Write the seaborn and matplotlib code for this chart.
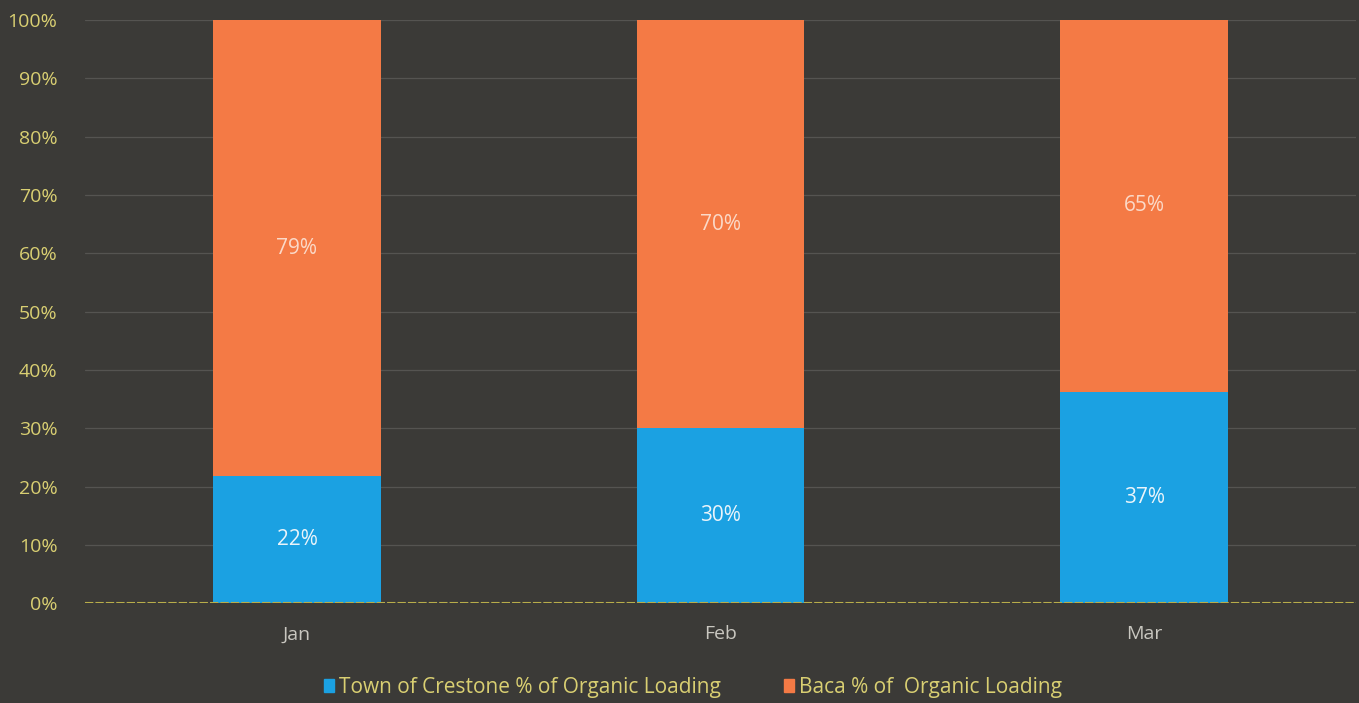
import matplotlib
matplotlib.use('Agg')
import matplotlib.pyplot as plt
import seaborn as sns
import pandas as pd
from matplotlib.patches import Patch

# Organic loading shares per month (as labelled in the chart)
months = ['Jan', 'Feb', 'Mar']
crestone_pct = [22, 30, 37]
baca_pct = [79, 70, 65]
series_names = ['Town of Crestone % of Organic Loading', 'Baca % of  Organic Loading']
y_ticks = list(range(0, 101, 10))

blue = '#1ba1e2'
orange = '#f47a45'
bg = '#3b3a37'
tick_col = '#d9cf72'

# 100% stacked: normalise each month to its total
df = pd.DataFrame({'month': months, 'crestone': crestone_pct, 'baca': baca_pct})
df['total'] = df['crestone'] + df['baca']
df['crestone_norm'] = df['crestone'] / df['total'] * 100
df['top'] = 100.0

sns.set_style('dark')
plt.rcParams['font.family'] = ['Open Sans', 'DejaVu Sans']

fig = plt.figure(figsize=(13.59, 7.03), dpi=100)
fig.patch.set_facecolor(bg)
ax = fig.add_axes([0.0627, 0.142, 0.935, 0.8296])
ax.set_facecolor(bg)

sns.barplot(data=df, x='month', y='top', color=orange, width=0.395,
            saturation=1, linewidth=0, ax=ax, zorder=3)
sns.barplot(data=df, x='month', y='crestone_norm', color=blue, width=0.395,
            saturation=1, linewidth=0, ax=ax, zorder=4)

for i, row in df.iterrows():
    ax.text(i, row['crestone_norm'] / 2, f"{row['crestone']}%", ha='center',
            va='center', color='#eaf4fa', fontsize=15, zorder=5)
    ax.text(i, row['crestone_norm'] + (100 - row['crestone_norm']) / 2,
            f"{row['baca']}%", ha='center', va='center', color='#fbd9c8',
            fontsize=15, zorder=5)

ax.set_xlim(-0.5, 2.5)
ax.set_ylim(0, 100)
ax.set_yticks(y_ticks)
ax.set_yticklabels([f'{t}%' for t in y_ticks])
ax.grid(axis='y', color='#555451', linewidth=0.9, zorder=0)
ax.grid(axis='x', visible=False)
ax.axhline(0, color='#b8ad4a', linewidth=1.5, linestyle=(0, (4, 1)), zorder=6)
for s in ax.spines.values():
    s.set_visible(False)
ax.tick_params(axis='y', colors=tick_col, labelsize=14, length=0, pad=20)
ax.tick_params(axis='x', colors='#c9c7c0', labelsize=14, length=0, pad=16)
ax.set_xlabel('')
ax.set_ylabel('')

handles = [Patch(facecolor=blue, edgecolor=blue), Patch(facecolor=orange, edgecolor=orange)]
leg = fig.legend(handles, series_names, loc='center', bbox_to_anchor=(0.51, 0.022),
                 ncol=2, frameon=False, fontsize=15, handlelength=0.5, handleheight=0.55,
                 handletextpad=0.25, columnspacing=3.0)
for t in leg.get_texts():
    t.set_color(tick_col)

fig.savefig('out.png', dpi=100, facecolor=bg)
